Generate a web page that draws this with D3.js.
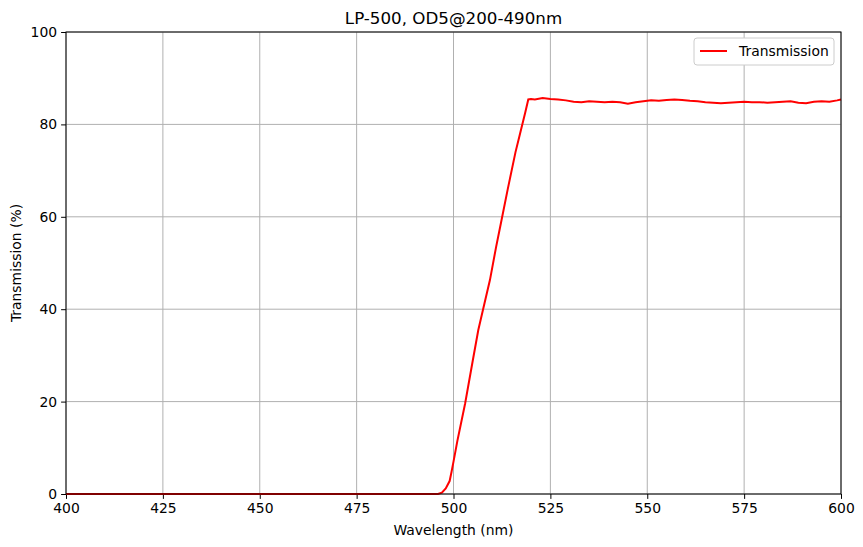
<!DOCTYPE html><html><head><script src="https://cdn.jsdelivr.net/npm/d3@7"></script>
<style>body{margin:0;background:#fff}text{font-family:"DejaVu Sans",sans-serif}</style></head><body><svg id="c" width="863" height="547"></svg>
<script>
const wavelengths=[400,450,495,496,497,498,499,499.5,500,501,503,505,506.4,507.7,509.4,511,512.4,514,516,517.2,518.5,519.3,520,521,523,525,527,529,531,533,535,537,539,541,543,545,547,549,551,553,555,557,559,561,563,565,567,569,571,573,575,577,579,581,583,585,587,589,591,593,595,597,599,600];
const transmission=[0,0,0,0,0.3,1.2,2.8,4.8,7,11.5,19.6,29,35.5,40.2,46.3,53.5,59.3,66,74,78.1,82.5,85.4,85.5,85.4,85.7,85.5,85.4,85.2,84.9,84.8,85,84.9,84.8,84.9,84.8,84.5,84.8,85,85.2,85.1,85.3,85.4,85.3,85.1,85,84.8,84.7,84.6,84.7,84.8,84.9,84.8,84.8,84.7,84.8,84.9,85,84.7,84.6,84.9,85,84.9,85.2,85.4];
const xTicks=[400,425,450,475,500,525,550,575,600];
const yTicks=[0,20,40,60,80,100];
const svg=d3.select("#c");
const m={l:66,r:841,t:32,b:494};
const x=d3.scaleLinear().domain([400,600]).range([m.l,m.r]);
const y=d3.scaleLinear().domain([0,100]).range([m.b,m.t]);
const g=svg.append("g");
g.selectAll(".gx").data(xTicks).join("line").attr("x1",d=>x(d)).attr("x2",d=>x(d)).attr("y1",m.t).attr("y2",m.b).attr("stroke","#b0b0b0").attr("stroke-width",1);
g.selectAll(".gy").data(yTicks).join("line").attr("y1",d=>y(d)).attr("y2",d=>y(d)).attr("x1",m.l).attr("x2",m.r).attr("stroke","#b0b0b0").attr("stroke-width",1);
const xa=svg.append("g").attr("transform",`translate(0,${m.b})`).call(d3.axisBottom(x).tickValues(xTicks).tickSize(4.9).tickPadding(4));
const ya=svg.append("g").attr("transform",`translate(${m.l},0)`).call(d3.axisLeft(y).tickValues(yTicks).tickSize(4.9).tickPadding(4));
[xa,ya].forEach(a=>{a.select(".domain").remove();a.selectAll("text").attr("font-size",13.9).attr("fill","#000").style("font-family","DejaVu Sans");});
svg.append("path").datum(wavelengths.map((w,i)=>[w,transmission[i]])).attr("fill","none").attr("stroke","red").attr("stroke-width",2)
 .attr("d",d3.line().x(d=>x(d[0])).y(d=>y(d[1])));
svg.append("rect").attr("x",m.l).attr("y",m.t).attr("width",m.r-m.l).attr("height",m.b-m.t).attr("fill","none").attr("stroke","#000").attr("stroke-width",1);
svg.append("text").attr("x",(m.l+m.r)/2).attr("y",24).attr("text-anchor","middle").attr("font-size",16.7).text("LP-500, OD5@200-490nm");
svg.append("text").attr("x",(m.l+m.r)/2).attr("y",535).attr("text-anchor","middle").attr("font-size",13.9).text("Wavelength (nm)");
svg.append("text").attr("transform",`translate(21,${(m.t+m.b)/2}) rotate(-90)`).attr("text-anchor","middle").attr("font-size",13.9).text("Transmission (%)");
const lg=svg.append("g").attr("transform","translate(694,38)");
lg.append("rect").attr("width",140).attr("height",27).attr("rx",3).attr("fill","#fff").attr("stroke","#ccc");
lg.append("line").attr("x1",6).attr("x2",33).attr("y1",13).attr("y2",13).attr("stroke","red").attr("stroke-width",2);
lg.append("text").attr("x",45).attr("y",18).attr("font-size",13.9).text("Transmission");
</script></body></html>
